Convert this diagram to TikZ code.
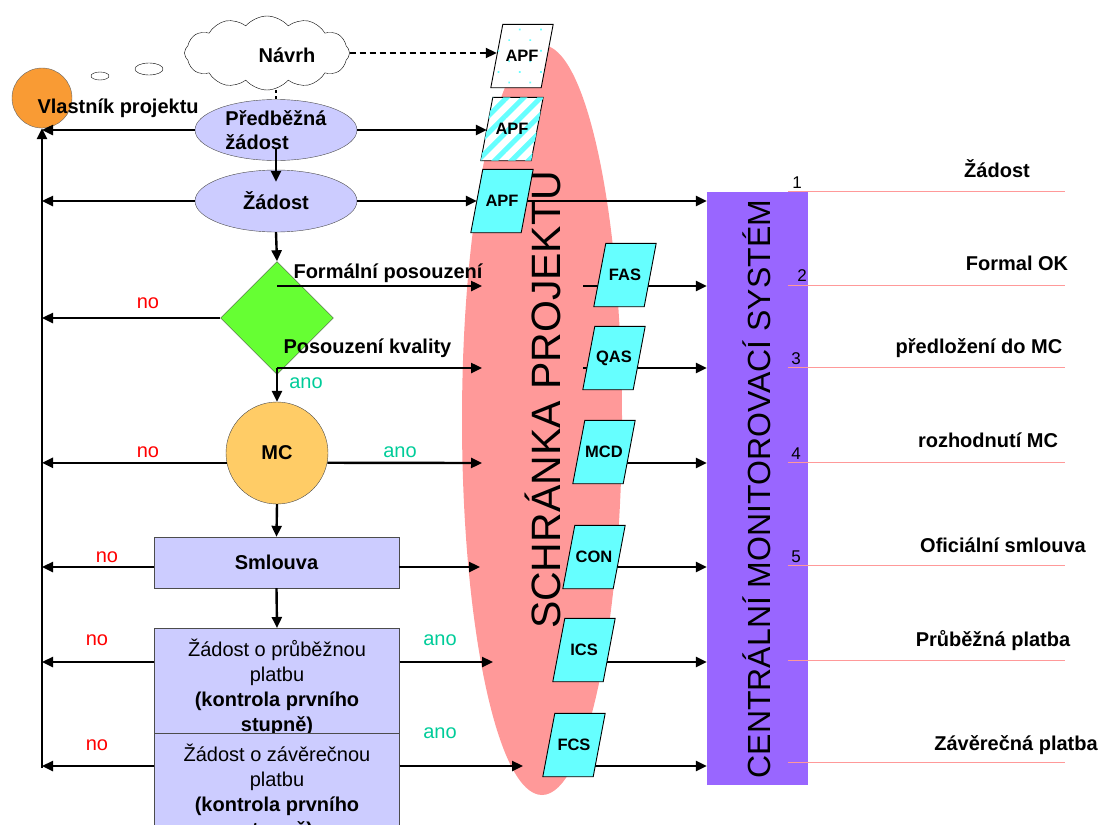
\documentclass[tikz,border=0pt]{standalone}
\usepackage{fontspec}
\setmainfont{Liberation Sans}
\usetikzlibrary{shapes.geometric,shapes.symbols,arrows.meta,patterns.meta}

\definecolor{lavblue}{HTML}{CCCCFF}
\definecolor{leafgreen}{HTML}{66FF33}
\definecolor{apricot}{HTML}{FFCC66}
\definecolor{tangerine}{HTML}{F99B34}
\definecolor{rosy}{HTML}{FF9999}
\definecolor{aqua}{HTML}{66FFFF}
\definecolor{cmsviolet}{HTML}{9966FF}
\definecolor{anogreen}{HTML}{00CC99}

\pgfdeclarelayer{back}
\pgfdeclarelayer{mid}
\pgfdeclarelayer{docs}
\pgfsetlayers{back,mid,docs,main}

\tikzset{
	lab/.style={font=\fontsize{20}{24}\selectfont\bfseries},
	plain/.style={font=\fontsize{20}{25}\selectfont},
	nolab/.style={plain, text=red},
	anolab/.style={plain, text=anogreen},
	num/.style={font=\fontsize{17}{17}\selectfont},
	arr/.style={line width=2.4pt, -{Triangle[length=11pt,width=10pt]}},
	doc/.style={rectangle, minimum width=50pt, minimum height=63pt, inner sep=0pt,
		font=\fontsize{16.5}{20}\selectfont\bfseries},
	docbox/.style={draw=black, line width=0.9pt, fill=aqua},
	blob/.style={ellipse, draw=black!70, fill=lavblue, minimum width=162pt, inner sep=0pt, lab},
	box/.style={rectangle, draw=black!70, fill=lavblue, minimum width=245pt, align=center},
	hline/.style={rosy, line width=0.8pt}
}

\begin{document}
\begin{tikzpicture}[x=1pt,y=-1pt]
	\useasboundingbox (0,0) rectangle (1101,825);
	\clip (0,0) rectangle (1101,825);

	% rows of the arrows
	\coordinate (rF) at (0,286);
	\coordinate (rQ) at (0,368);
	\coordinate (rM) at (0,463);
	\coordinate (rS) at (0,567);
	\coordinate (rI) at (0,662);
	\coordinate (rZ) at (0,766);
	\coordinate (spinebot) at (42,768);
	\coordinate (stub) at (583,0);

	\begin{pgfonlayer}{back}
		\fill[rosy] (542,420) ellipse [x radius=80, y radius=375];
	\end{pgfonlayer}
	\node[rotate=90, font=\fontsize{41}{41}\selectfont] (schranka) at (543,400) {SCHRÁNKA PROJEKTU};

	% owner and idea
	\node[circle, draw=black!60, fill=tangerine, minimum size=60pt, inner sep=0pt] (owner) at (42,98) {};
	\node[lab, anchor=west] (ownerlab) at (34,108) {Vlastník projektu};
	\draw (100,76) ellipse [x radius=9, y radius=4];
	\draw (149,69) ellipse [x radius=14, y radius=6];
	\node[cloud, draw, cloud puffs=12, cloud puff arc=100, aspect=2.2,
		minimum width=165pt, minimum height=74pt, inner sep=0pt] (cloud) at (267,53) {};
	\node[lab] (navrh) at (287,55) {Návrh};

	% flow
	\node[blob, minimum height=61pt, align=left] (pz) at (276,130) {Předběžná\\žádost};
	\node[blob, minimum height=62pt] (zd) at (276,201) {Žádost};
	\node[diamond, draw=black!70, fill=leafgreen, minimum size=113pt, inner sep=0pt] (dia) at (277,318) {};
	\node[lab, anchor=west] (formal) at (290,273) {Formální posouzení};
	\node[lab, anchor=west] (kvalita) at (280,348) {Posouzení kvality};
	\node[circle, draw=black!70, fill=apricot, minimum size=102pt, lab] (mc) at (277,453) {MC};
	\node[box, minimum height=51pt, lab] (sml) at (276.5,562.5) {Smlouva};
	\node[box, plain, minimum height=118pt, anchor=north] (box2) at (277,628)
		{Žádost o průběžnou\\platbu\\\textbf{(kontrola prvního}\\\textbf{stupně)}};
	\node[box, plain, minimum height=118pt, anchor=north] (box3) at (277,733)
		{Žádost o závěrečnou\\platbu\\\textbf{(kontrola prvního}\\\textbf{stupně)}};

	% documents
	\node[doc] (apf1) at (522,56) {APF};
	\node[doc] (apf2) at (512,129) {APF};
	\node[doc] (apf3) at (502,201) {APF};
	\node[doc] (fas) at (625,275) {FAS};
	\node[doc] (qas) at (614,358) {QAS};
	\node[doc] (mcd) at (604,452) {MCD};
	\node[doc] (con) at (594,557) {CON};
	\node[doc] (ics) at (584,650) {ICS};
	\node[doc] (fcs) at (574,745) {FCS};
	\begin{pgfonlayer}{docs}
		\draw[docbox, fill=white, postaction={pattern={Dots[distance=15pt,radius=1.2pt,angle=45]}, pattern color=aqua}]
			([xshift=6pt]apf1.north west) -- ([xshift=6pt]apf1.north east) -- ([xshift=-6pt]apf1.south east) -- ([xshift=-6pt]apf1.south west) -- cycle;
		\draw[docbox, fill=white, postaction={pattern={Lines[angle=45,distance=12pt,line width=5pt]}, pattern color=aqua}]
			([xshift=6pt]apf2.north west) -- ([xshift=6pt]apf2.north east) -- ([xshift=-6pt]apf2.south east) -- ([xshift=-6pt]apf2.south west) -- cycle;
		\foreach \d in {apf3,fas,qas,mcd,con,ics,fcs}
			\draw[docbox] ([xshift=6pt]\d.north west) -- ([xshift=6pt]\d.north east) -- ([xshift=-6pt]\d.south east) -- ([xshift=-6pt]\d.south west) -- cycle;
	\end{pgfonlayer}

	% free ends in the box
	\coordinate (inF) at (482,286);
	\coordinate (inQ) at (482,368);
	\coordinate (inM) at (482,463);
	\coordinate (inS) at (480,567);
	\coordinate (inI) at (493,662);
	\coordinate (inZ) at (523,766);

	% central system
	\node[rectangle, fill=cmsviolet, minimum width=101pt, minimum height=593pt, inner sep=0pt] (cms) at (757.5,488.5) {};
	\node[rotate=90, font=\fontsize{32}{32}\selectfont] (cmstext) at (757,489) {CENTRÁLNÍ MONITOROVACÍ SYSTÉM};

	\foreach \y/\lx/\ly/\txt in {191/997/169/Žádost, 285/1017/263/Formal OK, 367/979/348/předložení do MC,
		462/988/440/rozhodnutí MC, 565/1003/545/Oficiální smlouva, 660/993/641/Průběžná platba, 762/1016/745/Závěrečná platba} {
		\draw[hline] (788,\y) -- (1065,\y);
		\node[lab] (t\y) at (\lx,\ly) {\txt};
	}
	\foreach \x/\y/\n in {797/183/1, 802/276/2, 796/359/3, 796/454/4, 796/557/5}
		\node[num] (n\n) at (\x,\y) {\n};

	% yes / no
	\node[nolab] (no1) at (148,303) {no};
	\node[anolab] (ano1) at (306,383) {ano};
	\node[nolab] (no2) at (148,452) {no};
	\node[anolab] (ano2) at (400,452) {ano};
	\node[nolab] (no3) at (107,557) {no};
	\node[nolab] (no4) at (97,640) {no};
	\node[anolab] (ano4) at (440,640) {ano};
	\node[nolab] (no5) at (97,745) {no};
	\node[anolab] (ano5) at (440,733) {ano};

	% connectors
	\draw[arr, line width=2pt, dash pattern=on 6pt off 4pt] (cloud.east) -- (cloud.east -| apf1.west);
	\draw[line width=1.2pt, dash pattern=on 3pt off 3pt] (pz.north |- cloud.south) -- (pz.north);
	\draw[arr] (spinebot) -- (owner.south);
	\draw[arr] (pz.west) -- (pz.west -| owner.south);
	\draw[arr] (pz.east) -- (pz.east -| apf2.west);
	\draw[arr] ([yshift=12pt]pz.south) -- ([yshift=-12pt]zd.north);
	\draw[arr] (zd.west) -- (zd.west -| spinebot);
	\draw[arr] (zd.east) -- (zd.east -| apf3.west);
	\draw[arr] (zd.south) -- (dia.north);
	\draw[arr] (dia.center |- rF) -- (inF);
	\draw[arr] (dia.west) -- (dia.west -| spinebot);
	\draw[arr] (dia.center |- rQ) -- (inQ);
	\draw[arr] (dia.center |- rQ) -- (mc.north);
	\draw[arr] (mc.191) -- (mc.191 -| spinebot);
	\draw[arr] (mc.-11) -- (inM);
	\draw[arr] (mc.south) -- (sml.north);
	\draw[arr] (sml.west |- rS) -- (spinebot |- rS);
	\draw[arr] (sml.east |- rS) -- (inS);
	\draw[arr] (sml.south) -- (box2.north);
	\draw[arr] (box2.west |- rI) -- (spinebot |- rI);
	\draw[arr] (box2.east |- rI) -- (inI);
	\draw[arr] (box3.west |- rZ) -- (spinebot |- rZ);
	\draw[arr] (box3.east |- rZ) -- (inZ);

	\begin{pgfonlayer}{mid}
		\draw[arr] (apf3.center) -- (apf3.center -| cms.west);
		\draw[arr] (stub |- rF) -- (cms.west |- rF);
		\draw[arr] (stub |- rQ) -- (cms.west |- rQ);
		\draw[arr] (mcd.center |- rM) -- (cms.west |- rM);
		\draw[arr] (con.center |- rS) -- (cms.west |- rS);
		\draw[arr] (ics.center |- rI) -- (cms.west |- rI);
		\draw[arr] (fcs.center |- rZ) -- (cms.west |- rZ);
	\end{pgfonlayer}
\end{tikzpicture}
\end{document}
